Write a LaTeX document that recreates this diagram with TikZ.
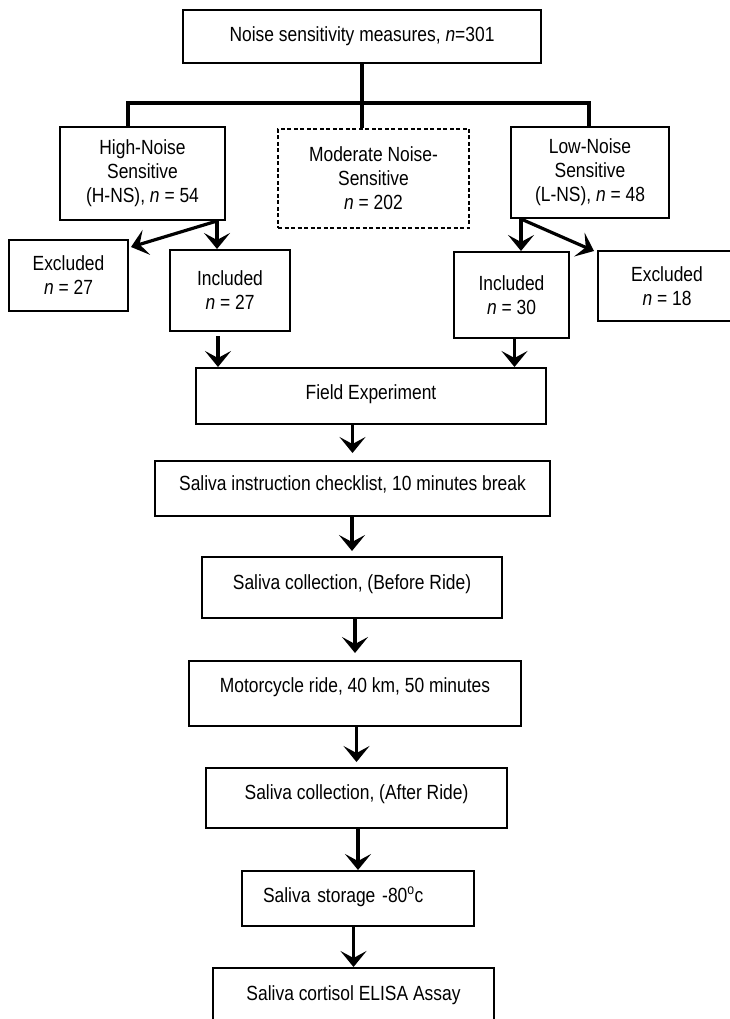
\documentclass[tikz,border=0pt]{standalone}
\usepackage{fontspec}
\setmainfont[FakeStretch=0.85]{Liberation Sans}
\usetikzlibrary{arrows.meta,calc}

\begin{document}
\begin{tikzpicture}[x=1pt,y=-1pt,
    font=\fontsize{20.5}{24}\selectfont,
    box/.style={draw,line width=2pt,inner sep=0pt,align=center},
    dbox/.style={draw,line width=1.3pt,dash pattern=on 4pt off 2.5pt,inner sep=0pt,align=center},
    oneline/.style={text height=14.5pt,text depth=#1},
    link/.style={line width=3.2pt},
    arr/.style={line width=3.2pt,-{Stealth[length=16pt,width=26pt,inset=7pt]}}]
\useasboundingbox (0,0) rectangle (729,1019);
    % groups
    \node[box,minimum width=358pt,minimum height=53pt,oneline=5pt] (all) at (362,36.5) {Noise sensitivity measures, \textit{n}=301};
    \node[box,minimum width=165pt,minimum height=93pt] (hns) at (142.5,173.5) {High-Noise\\Sensitive\\(H-NS), \textit{n} = 54};
    \node[dbox,minimum width=191pt,minimum height=99pt] (mns) at (373.5,178.5) {Moderate Noise-\\Sensitive\\\textit{n} = 202};
    \node[box,minimum width=158pt,minimum height=91pt] (lns) at (590,172.5) {Low-Noise\\Sensitive\\(L-NS), \textit{n} = 48};
    \node[box,minimum width=119pt,minimum height=71pt] (exl) at (68.5,275.5) {Excluded\\\textit{n} = 27};
    \node[box,minimum width=120pt,minimum height=81pt] (inl) at (230,290.5) {Included\\\textit{n} = 27};
    \node[box,minimum width=115pt,minimum height=86pt] (inr) at (511.5,295) {Included\\\textit{n} = 30};
    \node[box,minimum width=138pt,minimum height=70pt] (exr) at (667,286) {Excluded\\\textit{n} = 18};
    % steps
    \node[box,minimum width=350pt,minimum height=56pt,oneline=8pt] (field) at (371,396) {Field Experiment};
    \node[box,minimum width=395pt,minimum height=55pt,oneline=11pt] (ins) at (352.5,488.5) {Saliva instruction checklist, 10 minutes break};
    \node[box,minimum width=300pt,minimum height=61pt,oneline=11pt] (before) at (352,587.5) {Saliva collection, (Before Ride)};
    \node[box,minimum width=332pt,minimum height=65pt,oneline=17pt] (ride) at (355,693.5) {Motorcycle ride, 40 km, 50 minutes};
    \node[box,minimum width=301pt,minimum height=60pt,oneline=12pt] (after) at (356.5,798) {Saliva collection, (After Ride)};
    \node[box,text width=190pt,inner xsep=21pt,align=left,minimum height=55pt,oneline=7pt] (store) at (358,898.5) {Saliva storage -80\textsuperscript{o}c};
    \node[box,minimum width=281pt,minimum height=56pt,oneline=6pt] (elisa) at (353.5,996) {Saliva cortisol ELISA Assay};

    \coordinate (jl) at (128,103);
    \coordinate (jr) at (589,103);
    \draw[link] (all.south) -- (all.south |- jl);
    \draw[link] (jl |- hns.north) -- (jl) -- (jr) -- (jr |- lns.north);
    \draw[link] (all.south |- jl) -- (all.south |- mns.north);

    \coordinate (hout) at ($(hns.south east)+(-9,0)$);
    \draw[arr] (hout) -- ($(exl.north east)+(2,8)$);
    \draw[arr] (hout) -- (hout |- inl.north);
    \coordinate (lout) at ($(lns.south west)+(11,0)$);
    \draw[arr] (lout) -- (lout |- inr.north);
    \draw[arr] (lout) -- ($(exr.north west)+(-3,1)$);

    \coordinate (inlo) at ($(inl.south)+(-12,4)$);
    \draw[arr] (inlo) -- (inlo |- field.north);
    \coordinate (inro) at ($(inr.south)+(3,0)$);
    \draw[arr] (inro) -- (inro |- field.north);

    \draw[arr,shorten >=7pt] (field.south -| ins.north) -- (ins.north);
    \draw[arr,shorten >=5pt] (ins.south -| before.north) -- (before.north);
    \draw[arr,shorten >=7pt] (before.south -| ride.north) -- (ride.north);
    \draw[arr,shorten >=5pt] (ride.south -| after.north) -- (after.north);
    \draw[arr] (after.south -| store.north) -- (store.north);
    \draw[arr] (store.south -| elisa.north) -- (elisa.north);
\end{tikzpicture}
\end{document}
